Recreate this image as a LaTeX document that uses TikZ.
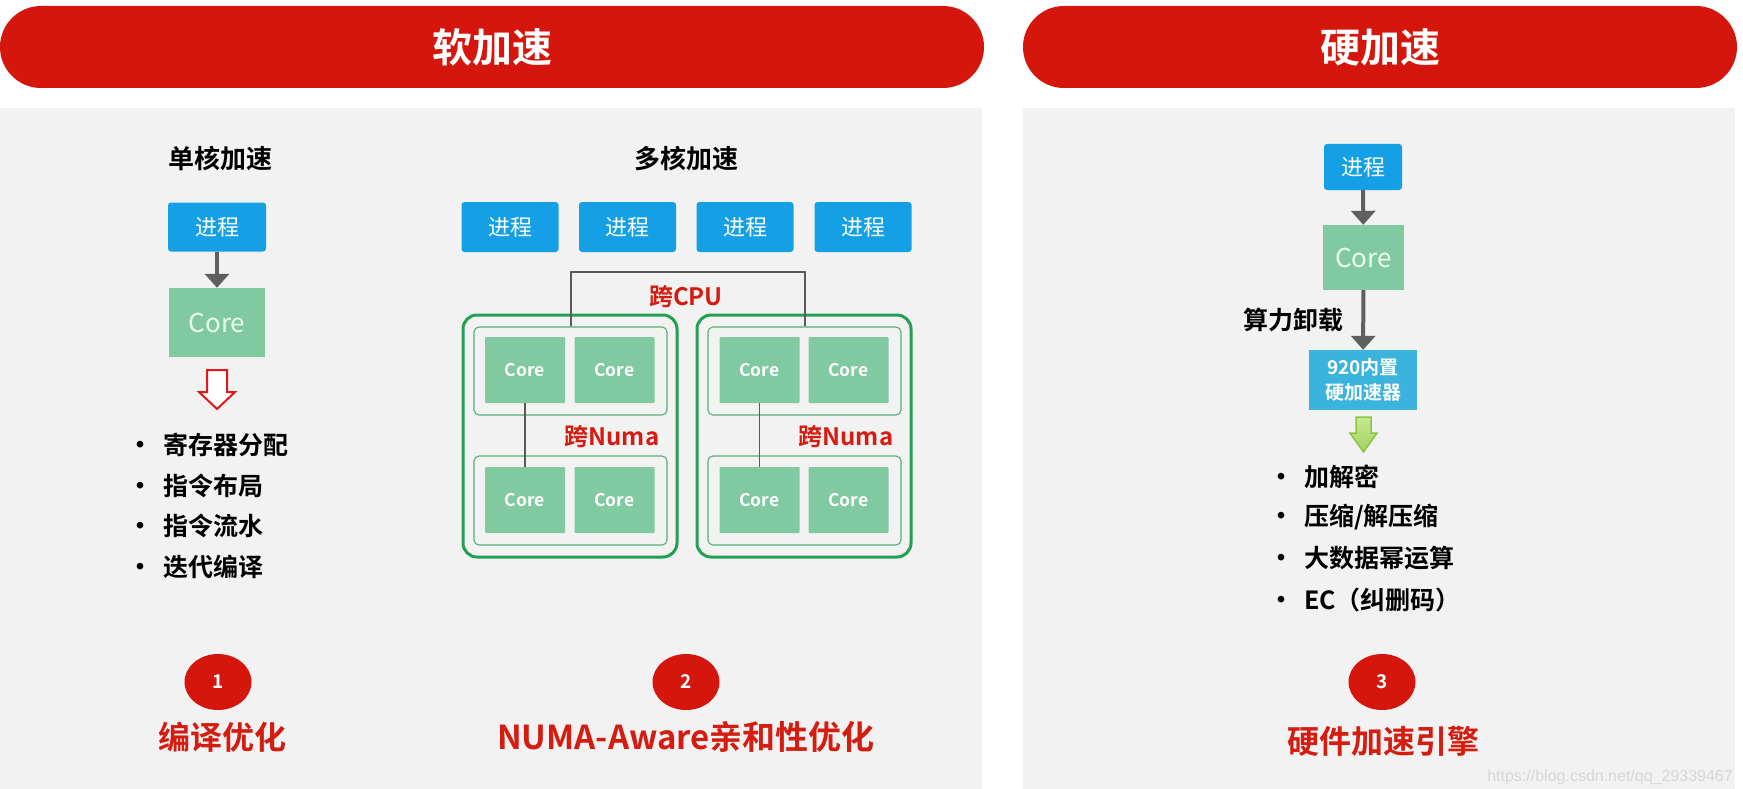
\documentclass[tikz,border=0pt]{standalone}
\usepackage{fontspec}
\setmainfont{Noto Sans CJK SC}[BoldFont={Noto Sans CJK SC Bold}]
\newfontfamily\wmfont{Liberation Sans}
\usetikzlibrary{arrows.meta,shapes.geometric}
\definecolor{bannerred}{HTML}{D5160C}
\definecolor{panelgray}{HTML}{F2F2F2}
\definecolor{procblue}{HTML}{15A0E6}
\definecolor{coregreen}{HTML}{80C9A1}
\definecolor{cpugreen}{HTML}{23A053}
\definecolor{numagreen}{HTML}{52B176}
\definecolor{accblue}{HTML}{3AB4DC}
\definecolor{redtext}{HTML}{D41C10}
\definecolor{arrowgray}{HTML}{5F5F5F}
\definecolor{linkgray}{HTML}{5A5A5A}
\definecolor{wmgray}{HTML}{D6D6D6}
\definecolor{hollowred}{HTML}{E01818}
\definecolor{hollowgreen}{HTML}{8CC63F}
\definecolor{lightgreen}{HTML}{C8E890}
\newcommand{\bul}{\makebox[36pt][l]{\fontsize{26}{26}\selectfont\textbullet}}
\begin{document}
\begin{tikzpicture}[x=1pt,y=-1pt,
  banner/.style={fill=bannerred, rounded corners=41pt, minimum height=82pt, inner sep=0pt,
    text=white, font=\fontsize{40}{44}\selectfont\bfseries},
  title/.style={inner sep=0pt, text=black, font=\fontsize{26}{30}\selectfont\bfseries},
  proc/.style={fill=procblue, rounded corners=3pt, inner sep=0pt, text=white,
    font=\fontsize{22}{26}\selectfont},
  corebig/.style={fill=coregreen, inner sep=0pt, text=white!92!green,
    font=\fontsize{26}{30}\selectfont},
  coresmall/.style={fill=coregreen, rounded corners=1pt, inner sep=0pt, minimum width=80pt,
    minimum height=66pt, text=white, font=\fontsize{17.5}{20}\selectfont\bfseries},
  cpubox/.style={draw=cpugreen, line width=3pt, rounded corners=14pt, minimum width=214pt,
    minimum height=242pt, inner sep=0pt},
  numabox/.style={draw=numagreen, line width=1.1pt, rounded corners=5pt, minimum width=193pt,
    minimum height=88pt, inner sep=0pt},
  flow/.style={draw=arrowgray, line width=4pt, -{Triangle[width=24pt,length=14pt]}},
  cpulink/.style={draw=linkgray, line width=2pt},
  numalink/.style={draw=linkgray, line width=1.3pt},
  redlabel/.style={inner sep=0pt, text=redtext, font=\fontsize{24}{28}\selectfont\bfseries},
  item/.style={inner sep=0pt, anchor=west, text=black, font=\fontsize{25}{29}\selectfont\bfseries},
  num/.style={ellipse, fill=bannerred, minimum width=67pt, minimum height=56pt, inner sep=0pt,
    text=white, font=\fontsize{19}{22}\selectfont\bfseries},
  result/.style={inner sep=0pt, text=redtext, font=\fontsize{32}{36}\selectfont\bfseries}
]
\useasboundingbox (0,0) rectangle (1743,789);
\fill[white] (0,0) rectangle (1743,789);
% panels
\fill[panelgray] (0,108) rectangle (982,789);
\fill[panelgray] (1023,108) rectangle (1735,789);
% banners
\node[banner, minimum width=984pt] (bannerL) at (492,47) {软加速};
\node[banner, minimum width=714pt] (bannerR) at (1380,47) {硬加速};

% ---------- single core ----------
\node[title] (t1) at (220,159) {单核加速};
\node[proc, minimum width=98pt, minimum height=49pt] (p0) at (217,227) {进程};
\node[corebig, minimum width=96pt, minimum height=69pt] (c0) at (217,322.5) {Core};
\draw[flow] (p0) -- (c0);
\draw[draw=hollowred, line width=2pt, fill=white, line join=miter]
  (207,370) -- (227,370) -- (227,392) -- (235,392) -- (217,409) -- (199,392) -- (207,392) -- cycle;
\node[item] (i1) at (127,445) {\bul 寄存器分配};
\node[item] (i2) at (127,486) {\bul 指令布局};
\node[item] (i3) at (127,526) {\bul 指令流水};
\node[item] (i4) at (127,567) {\bul 迭代编译};
\node[num] (n1) at (218,682) {1};
\node[result] (r1) at (222,737) {编译优化};

% ---------- multi core ----------
\node[title] (t2) at (686,159) {多核加速};
\node[proc, minimum width=97pt, minimum height=50pt] (pa) at (510,227) {进程};
\node[proc, minimum width=97pt, minimum height=50pt] (pb) at (627.5,227) {进程};
\node[proc, minimum width=97pt, minimum height=50pt] (pc) at (745,227) {进程};
\node[proc, minimum width=97pt, minimum height=50pt] (pd) at (863,227) {进程};

\node[cpubox] (cpuA) at (570,436) {};
\node[cpubox] (cpuB) at (804,436) {};
\node[numabox] (nA1) at (570.5,371) {};
\node[numabox, minimum height=89pt] (nA2) at (570.5,500.5) {};
\node[numabox] (nB1) at (804.5,371) {};
\node[numabox, minimum height=89pt] (nB2) at (804.5,500.5) {};

\node[coresmall] (cA1) at (525,370) {Core};
\node[coresmall] (cA2) at (614.5,370) {Core};
\node[coresmall] (cA3) at (525,500) {Core};
\node[coresmall] (cA4) at (614.5,500) {Core};
\node[coresmall] (cB1) at (759.5,370) {Core};
\node[coresmall] (cB2) at (848.5,370) {Core};
\node[coresmall] (cB3) at (759.5,500) {Core};
\node[coresmall] (cB4) at (848.5,500) {Core};

\draw[cpulink] (nA1.north) -- ++(0,-54) -| (nB1.north);
\node[redlabel] (lcpu) at (686,297) {跨CPU};
\draw[numalink] (cA1.south) -- (cA3.north);
\draw[numalink] (cB1.south) -- (cB3.north);
\node[redlabel] (lnA) at (612,437) {跨Numa};
\node[redlabel] (lnB) at (846,437) {跨Numa};

\node[num] (n2) at (686,682) {2};
\node[result, font=\fontsize{33}{37}\selectfont\bfseries] (r2) at (686,737) {NUMA-Aware亲和性优化};

% ---------- hardware ----------
\node[proc, minimum width=78pt, minimum height=46pt] (hp) at (1363,167) {进程};
\node[corebig, minimum width=81pt, minimum height=65pt] (hc) at (1363.5,257.5) {Core};
\node[fill=accblue, minimum width=108pt, minimum height=60pt, inner sep=0pt, text=white,
  align=center, font=\fontsize{19}{25}\selectfont\bfseries] (acc) at (1363,380) {920内置\\硬加速器};
\draw[flow] (hp) -- (hc);
\draw[flow] (hc) -- node[midway, anchor=east, inner sep=0pt, xshift=-18pt, text=black,
  font=\fontsize{25}{29}\selectfont\bfseries] (loff) {算力卸载} (acc);
\draw[draw=hollowgreen, line width=1.5pt, top color=lightgreen, bottom color=hollowgreen!80, line join=miter]
  (1356,417) -- (1371,417) -- (1371,433) -- (1377,433) -- (1363.5,452) -- (1350,433) -- (1356,433) -- cycle;
\node[item] (h1) at (1268,477) {\bul 加解密};
\node[item] (h2) at (1268,517) {\bul 压缩/解压缩};
\node[item] (h3) at (1268,558) {\bul 大数据幂运算};
\node[item] (h4) at (1268,600) {\bul EC（纠删码）};
\node[num] (n3) at (1382,682) {3};
\node[result] (r3) at (1383,741) {硬件加速引擎};

\node[anchor=east, inner sep=0pt, text=wmgray, font=\wmfont\fontsize{16}{18}\selectfont] (wm) at (1733,777) {https://blog.csdn.net/qq\_29339467};
\end{tikzpicture}
\end{document}
